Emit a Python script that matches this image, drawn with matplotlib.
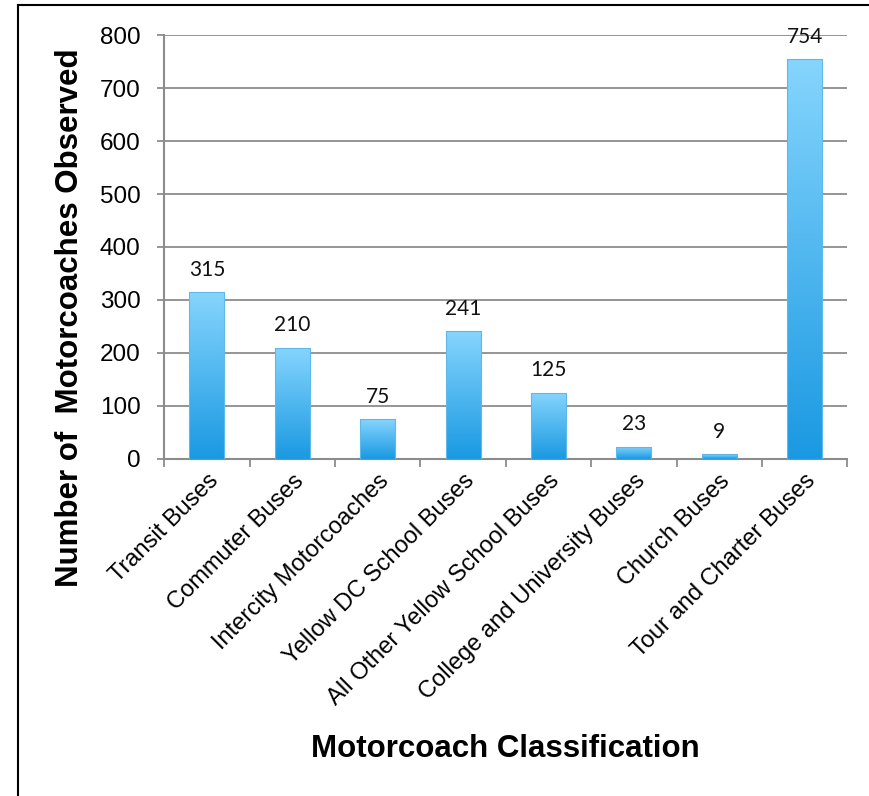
import numpy as np
import matplotlib
matplotlib.use('Agg')
import matplotlib.pyplot as plt
from matplotlib.colors import LinearSegmentedColormap
from matplotlib.lines import Line2D

categories = ['Transit Buses', 'Commuter Buses', 'Intercity Motorcoaches',
              'Yellow DC School Buses', 'All Other Yellow School Buses',
              'College and University Buses', 'Church Buses', 'Tour and Charter Buses']
counts = [315, 210, 75, 241, 125, 23, 9, 754]
yticks = [0, 100, 200, 300, 400, 500, 600, 700, 800]

plt.rcParams['font.family'] = ['Liberation Sans', 'DejaVu Sans']

fig = plt.figure(figsize=(8.69, 7.96), dpi=100)
ax = fig.add_axes([0.189, 0.4234, 0.786, 0.5326])

x = np.arange(len(categories))
width = 0.41
bars = ax.bar(x, counts, width=width, color='none', edgecolor='none', zorder=3)

# vertical gradient fill, clipped to each bar
cmap = LinearSegmentedColormap.from_list('blu', ['#1a99e2', '#86d5fd'])
grad = np.linspace(0, 1, 256).reshape(-1, 1)
for b, v in zip(bars, counts):
    x0 = b.get_x()
    im = ax.imshow(grad, cmap=cmap, origin='lower', aspect='auto',
                   extent=[x0, x0 + width, 0, v], zorder=3)
    im.set_clip_path(b)
    ax.add_patch(plt.Rectangle((x0, 0), width, v, fill=False,
                               edgecolor='#5fb8ea', lw=0.8, zorder=4))

for xi, v in zip(x, counts):
    ax.annotate(str(v), (xi, v), xytext=(0, 9), textcoords='offset points',
                ha='center', va='bottom', fontsize=15, family=['Lato', 'DejaVu Sans'],
                color='#111111')

ax.set_xlim(-0.5, len(categories) - 0.5)
ax.set_ylim(0, 800)
ax.set_yticks(yticks)
ax.tick_params(axis='y', labelsize=17.5, length=5, width=1.3, color='#8c8c8c', pad=12)
ax.grid(axis='y', color='#8c8c8c', lw=1.3, zorder=0)
ax.set_axisbelow(True)

ax.set_xticks(x)
ax.set_xticklabels(categories, rotation=45, ha='right', rotation_mode='anchor', fontsize=17)
ax.tick_params(axis='x', which='major', length=0, pad=8)
ax.set_xticks(np.arange(-0.5, len(categories)), minor=True)
ax.tick_params(axis='x', which='minor', length=6, width=1.3, color='#8c8c8c')

for s in ['top', 'right']:
    ax.spines[s].set_visible(False)
for s in ['left', 'bottom']:
    ax.spines[s].set_color('#8c8c8c')
    ax.spines[s].set_linewidth(1.5)

# axis titles placed by hand, like the original
fig.text(70 / 869, 1 - 318 / 796, 'Number of  Motorcoaches Observed', fontsize=22.5,
         fontweight='bold', rotation=90, ha='center', va='center')
fig.text(505 / 869, 1 - 749 / 796, 'Motorcoach Classification', fontsize=22.5,
         fontweight='bold', ha='center', va='center')

# frame lines on left and top
fig.add_artist(Line2D([18 / 869, 18 / 869], [0, 1 - 5 / 796], color='black', lw=1.5))
fig.add_artist(Line2D([18 / 869, 1], [1 - 5 / 796, 1 - 5 / 796], color='black', lw=1.5))

fig.savefig('out.png', dpi=100)
